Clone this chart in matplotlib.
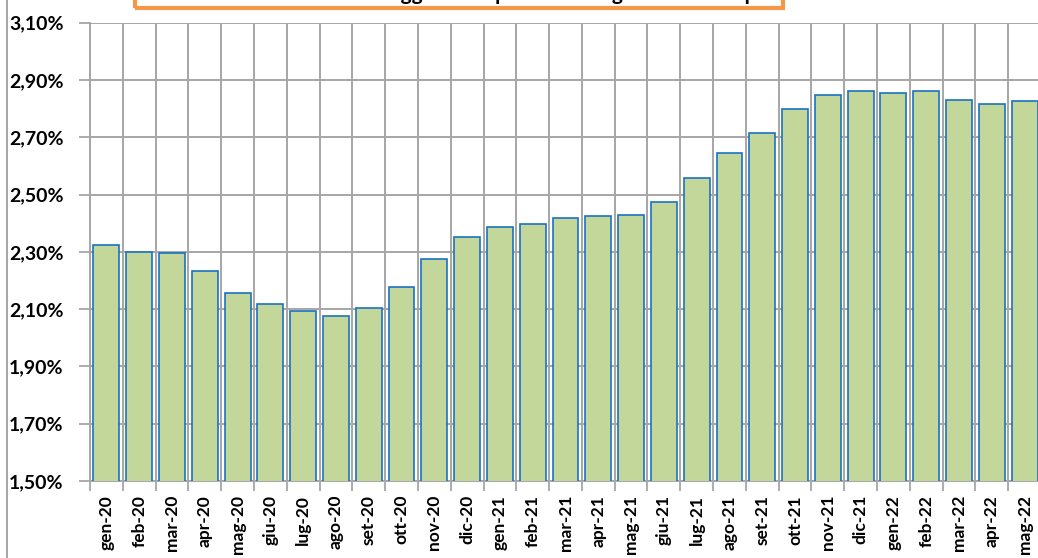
import matplotlib.pyplot as plt
from matplotlib.ticker import FuncFormatter, FixedLocator
from matplotlib.patches import Rectangle
from matplotlib.lines import Line2D
import numpy as np

plt.rcParams['font.family'] = ['Lato', 'DejaVu Sans']

mesi = ['gen-20', 'feb-20', 'mar-20', 'apr-20', 'mag-20', 'giu-20', 'lug-20',
        'ago-20', 'set-20', 'ott-20', 'nov-20', 'dic-20', 'gen-21', 'feb-21',
        'mar-21', 'apr-21', 'mag-21', 'giu-21', 'lug-21', 'ago-21', 'set-21',
        'ott-21', 'nov-21', 'dic-21', 'gen-22', 'feb-22', 'mar-22', 'apr-22',
        'mag-22']
valori = [2.324, 2.299, 2.296, 2.233, 2.156, 2.118, 2.093, 2.076, 2.104,
          2.177, 2.275, 2.352, 2.387, 2.397, 2.418, 2.425, 2.428, 2.474,
          2.558, 2.645, 2.715, 2.798, 2.848, 2.860, 2.854, 2.860, 2.831,
          2.815, 2.825]
tick_y = [1.5, 1.7, 1.9, 2.1, 2.3, 2.5, 2.7, 2.9, 3.1]
titolo = "Tasso medio di interesse oggi sale al picco nel lungo arco di tempo"

W, H = 1038, 558
fig = plt.figure(figsize=(W / 100, H / 100), dpi=100)
ax = fig.add_axes([90 / W, (H - 481) / H, (1041 - 90) / W, (481 - 22.7) / H])

grigio = '#A6A6A6'
x = np.arange(len(mesi))
ax.bar(x, valori, width=0.79, bottom=0, color='#C4D79B',
       edgecolor='#1A72C4', linewidth=1.2, zorder=3)

ax.set_xlim(-0.5, len(mesi) - 0.5)
ax.set_ylim(1.5, 3.1)
ax.set_yticks(tick_y)
ax.yaxis.set_major_formatter(FuncFormatter(lambda v, p: f"{v:.2f}%".replace('.', ',')))

ax.set_xticks(x)
ax.set_xticklabels(mesi, rotation=90, fontweight='bold', fontsize=12.5)
ax.xaxis.set_minor_locator(FixedLocator(np.arange(len(mesi) + 1) - 0.5))
ax.tick_params(axis='x', which='major', length=0, pad=10)
ax.tick_params(axis='x', which='minor', length=7, color=grigio, width=1.3)
ax.tick_params(axis='y', length=8, color=grigio, width=1.3, labelsize=14, pad=11)
for lab in ax.get_yticklabels():
    lab.set_fontweight('bold')

ax.grid(axis='y', which='major', color=grigio, lw=1.4, zorder=0)
ax.grid(axis='x', which='minor', color=grigio, lw=1.4, zorder=0)
ax.set_axisbelow(True)
for s in ['top', 'right']:
    ax.spines[s].set_visible(False)
for s in ['left', 'bottom']:
    ax.spines[s].set_color(grigio)
    ax.spines[s].set_linewidth(1.4)

# bordo dell'area grafico
fig.add_artist(Line2D([7 / W, 7 / W], [0, 1], color=grigio, lw=1.4))

# riquadro del titolo (tagliato in alto)
fig.add_artist(Rectangle((135 / W, 1 - 8 / H), (783 - 135) / W, 40 / H,
                         fill=False, edgecolor='#F79646', lw=3,
                         transform=fig.transFigure, clip_on=False))
fig.text(462 / W, 1 - 0.5 / H, titolo, ha='center', va='baseline',
         fontsize=15, fontweight='bold')

fig.savefig('out.png', dpi=100)
